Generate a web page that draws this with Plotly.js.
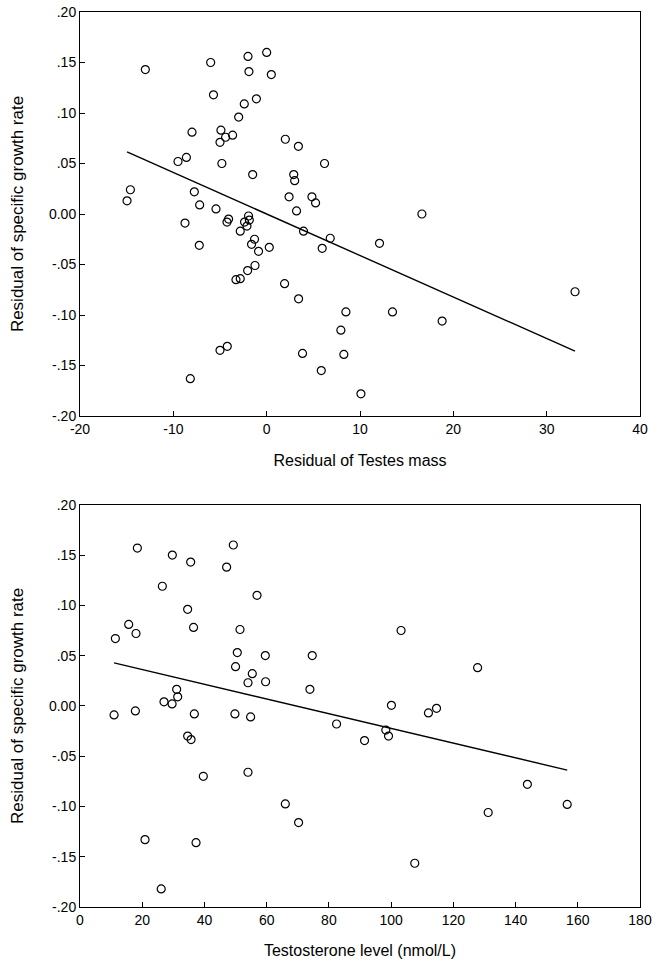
<!DOCTYPE html>
<html>
<head>
<meta charset="utf-8">
<script src="https://cdn.plot.ly/plotly-3.0.1.min.js"></script>
<style>
  html, body { margin: 0; padding: 0; background: #fff; }
  #chart { width: 664px; height: 971px; }
</style>
</head>
<body>
<div id="chart"></div>
<script>
// ---- Top panel: residual of testes mass vs residual of specific growth rate
var testesX = [-13.0, -6.0, -2.0, -1.9, -5.7, -1.1, -2.4, -3.0, -8.0, -4.9, -4.4, -3.65, -5.0, -9.5, -8.6, -4.8, -1.5, -14.6, -7.75, -14.96,
  0.0, 0.5, 2.0, 3.4, 6.2, 2.9, 3.0, 2.4, 4.85, 5.24, -7.18, -5.43, -8.75, 3.2, -1.94, -4.08, -4.25, -1.86, -2.37, -2.11,
  -2.83, 3.95, 6.81, 5.95, -1.3, -1.62, -0.87, 0.28, -7.22, -1.25, -2.04, -2.83, -3.29, 1.92, 3.42, 8.49, 7.95, 3.84, 8.27, -5.0,
  -4.22, 5.85, -8.18, 16.63, 12.09, 33.04, 13.48, 18.8, 10.1];
var testesY = [0.143, 0.150, 0.156, 0.141, 0.118, 0.114, 0.109, 0.096, 0.081, 0.083, 0.076, 0.078, 0.071, 0.052, 0.056, 0.050, 0.039, 0.024, 0.022, 0.013,
  0.160, 0.138, 0.074, 0.067, 0.050, 0.039, 0.033, 0.017, 0.017, 0.011, 0.009, 0.005, -0.009, 0.003, -0.002, -0.005, -0.008, -0.006, -0.008, -0.012,
  -0.017, -0.017, -0.024, -0.034, -0.025, -0.030, -0.037, -0.033, -0.031, -0.051, -0.056, -0.064, -0.065, -0.069, -0.084, -0.097, -0.115, -0.138, -0.139, -0.135,
  -0.131, -0.155, -0.163, 0.000, -0.029, -0.077, -0.097, -0.106, -0.178];
var testesFit = {slope: -0.00411, intercept: 0.0};

// ---- Bottom panel: testosterone level vs residual of specific growth rate
var testoX = [18.44, 29.68, 35.57, 49.28, 47.13, 26.47, 56.9, 34.6, 15.65, 36.5, 51.43, 18.0, 11.37, 50.56, 50.0, 55.38, 54.0, 103.2, 59.56, 74.65,
  59.66, 127.8, 31.07, 31.4, 27.0, 29.6, 10.95, 17.8, 36.75, 49.8, 54.84, 34.6, 35.7, 39.64, 54.0, 20.9, 37.3, 73.9, 82.47, 91.46,
  98.3, 99.17, 100.1, 112.0, 114.6, 66.0, 70.26, 107.6, 131.2, 143.8, 156.6, 26.1];
var testoY = [0.157, 0.150, 0.143, 0.160, 0.138, 0.119, 0.110, 0.096, 0.081, 0.078, 0.076, 0.072, 0.067, 0.053, 0.039, 0.032, 0.023, 0.075, 0.050, 0.050,
  0.024, 0.038, 0.0165, 0.009, 0.004, 0.002, -0.009, -0.005, -0.008, -0.008, -0.011, -0.030, -0.0335, -0.070, -0.066, -0.133, -0.136, 0.0165, -0.018, -0.0345,
  -0.024, -0.030, 0.0006, -0.007, -0.0024, -0.0975, -0.116, -0.1565, -0.106, -0.078, -0.098, -0.182];
var testoFit = {slope: -0.000732, intercept: 0.0508};

var yTickVals = [0.20, 0.15, 0.10, 0.05, 0.0, -0.05, -0.10, -0.15, -0.20];
var yTickText = ['.20', '.15', '.10', '.05', '0.00', '-.05', '-.10', '-.15', '-.20'];
var xTicksTop = [-20, -10, 0, 10, 20, 30, 40];
var xTicksBottom = [0, 20, 40, 60, 80, 100, 120, 140, 160, 180];

var yTitle = 'Residual of specific growth rate';
var xTitleTop = 'Residual of Testes mass';
var xTitleBottom = 'Testosterone level (nmol/L)';

function fitLine(xs, fit) {
  var lo = Math.min.apply(null, xs), hi = Math.max.apply(null, xs);
  return {x: [lo, hi], y: [fit.intercept + fit.slope * lo, fit.intercept + fit.slope * hi]};
}

var marker = {symbol: 'circle-open', size: 8, color: '#000', line: {width: 1.2, color: '#000'}};
var lineStyle = {color: '#000', width: 1.4};

var fTop = fitLine(testesX, testesFit);
var fBot = fitLine(testoX, testoFit);

var data = [
  {type: 'scatter', mode: 'markers', x: testesX, y: testesY, marker: marker, xaxis: 'x', yaxis: 'y', hoverinfo: 'skip'},
  {type: 'scatter', mode: 'lines', x: fTop.x, y: fTop.y, line: lineStyle, xaxis: 'x', yaxis: 'y', hoverinfo: 'skip'},
  {type: 'scatter', mode: 'markers', x: testoX, y: testoY, marker: marker, xaxis: 'x2', yaxis: 'y2', hoverinfo: 'skip'},
  {type: 'scatter', mode: 'lines', x: fBot.x, y: fBot.y, line: lineStyle, xaxis: 'x2', yaxis: 'y2', hoverinfo: 'skip'}
];

var fam = '"Liberation Sans", Arial, sans-serif';
var font = {family: fam, size: 14, color: '#000'};
var xTitleFont = {family: fam, size: 16, color: '#000'};
var yTitleFont = {family: fam, size: 17, color: '#000'};

function xAxis(range, ticks, title, anchor) {
  return {
    range: range, tickvals: ticks, ticktext: ticks.map(String), anchor: anchor,
    showgrid: false, zeroline: false, showline: true, mirror: true, linecolor: '#000', linewidth: 1,
    ticks: 'inside', ticklen: 5, tickwidth: 1, tickcolor: '#000', tickfont: font,
    title: {text: title, font: xTitleFont, standoff: 18}
  };
}
function yAxis(domain, anchor) {
  return {
    domain: domain, range: [-0.2, 0.2], tickvals: yTickVals, ticktext: yTickText, anchor: anchor,
    showgrid: false, zeroline: false, showline: true, mirror: true, linecolor: '#000', linewidth: 1,
    ticks: 'inside', ticklen: 5, tickwidth: 1, tickcolor: '#000', tickfont: font,
    title: {text: yTitle, font: yTitleFont, standoff: 20}
  };
}

var layout = {
  width: 664, height: 971,
  margin: {l: 80, r: 24, t: 12, b: 64},
  paper_bgcolor: '#fff', plot_bgcolor: '#fff',
  showlegend: false,
  xaxis: xAxis([-20, 40], xTicksTop, xTitleTop, 'y'),
  yaxis: yAxis([0.5486, 1], 'x'),
  xaxis2: xAxis([0, 180], xTicksBottom, xTitleBottom, 'y2'),
  yaxis2: yAxis([0, 0.4494], 'x2')
};

Plotly.newPlot('chart', data, layout, {staticPlot: true, displayModeBar: false});
</script>
</body>
</html>
